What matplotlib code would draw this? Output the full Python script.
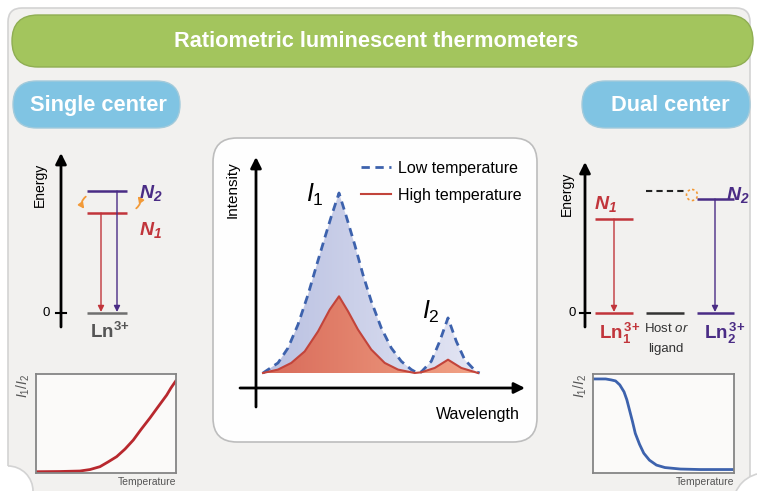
import numpy as np
import matplotlib.pyplot as plt
from matplotlib.colors import LinearSegmentedColormap
from matplotlib.patches import FancyBboxPatch, Circle, Arc, FancyArrowPatch

plt.rcParams['font.family'] = ['Liberation Sans', 'DejaVu Sans']
plt.rcParams['mathtext.fontset'] = 'custom'
plt.rcParams['mathtext.rm'] = 'Liberation Sans'
plt.rcParams['mathtext.it'] = 'Liberation Sans:italic'
plt.rcParams['mathtext.bf'] = 'Liberation Sans:bold'
plt.rcParams['mathtext.bfit'] = 'Liberation Sans:italic:bold'

W, H = 757, 491

# emission spectra (arbitrary wavelength units), scaled to the I1 peak at low T
low_wl = [0, 1.5, 2.5, 3.5, 4.5, 5.33, 6.17, 6.83, 7.6, 8.33, 9.17, 10.0, 10.83, 11.83,
          12.83, 13.83, 14.83, 15.43,
          15.83, 16.83, 17.67, 18.5, 19.33, 20.17, 21.33, 21.67]
low_int = [0, 0.056, 0.139, 0.269, 0.435, 0.593, 0.75, 0.87, 1.0, 0.87, 0.713, 0.546, 0.398,
           0.25, 0.139, 0.065, 0.019, 0,
           0.006, 0.065, 0.176, 0.306, 0.176, 0.074, 0.006, 0]
high_wl = [0, 1.5, 2.83, 4.17, 5.5, 6.67, 7.6, 8.5, 9.5, 10.83, 12.17, 13.5, 15.17,
           15.83, 17.17, 18.5, 19.83, 21.5]
high_int = [0, 0.019, 0.056, 0.12, 0.231, 0.352, 0.426, 0.343, 0.241, 0.13, 0.056, 0.019, 0,
            0.004, 0.028, 0.074, 0.028, 0]

# I1/I2 against temperature, both axes normalised
single_T = [0.007, 0.171, 0.314, 0.386, 0.457, 0.514, 0.576, 0.636, 0.695, 0.75, 0.814,
            0.871, 0.934, 0.964, 0.998]
single_ratio = [0.013, 0.015, 0.02, 0.035, 0.064, 0.111, 0.165, 0.242, 0.333, 0.439, 0.556,
                0.667, 0.788, 0.859, 0.929]
dual_T = [0.0, 0.09, 0.13, 0.16, 0.19, 0.22, 0.24, 0.26, 0.28, 0.30, 0.33, 0.36, 0.40,
          0.45, 0.51, 0.62, 0.76, 1.0]
dual_ratio = [0.95, 0.95, 0.94, 0.93, 0.89, 0.82, 0.74, 0.63, 0.52, 0.40, 0.29, 0.20,
              0.13, 0.08, 0.055, 0.04, 0.035, 0.035]

RED = '#c1353b'
PURPLE = '#4a2c85'
ORANGE = '#f29a38'
BLUE = '#3d62ad'
EDGE = '#d3d3d3'

fig = plt.figure(figsize=(W / 100, H / 100), dpi=100)
fig.patch.set_facecolor('white')
ax = fig.add_axes([0, 0, 1, 1])
ax.set_xlim(0, W)
ax.set_ylim(H, 0)
ax.axis('off')


def box(x0, y0, x1, y1):
    return [x0 / W, 1 - y1 / H, (x1 - x0) / W, (y1 - y0) / H]


def pill(x0, y0, x1, y1, r, fc, ec, z=1, lw=1.0):
    ax.add_patch(FancyBboxPatch((x0, y0), x1 - x0, y1 - y0,
                                boxstyle=f'round,pad=0,rounding_size={r}',
                                fc=fc, ec=ec, lw=lw, zorder=z))


def arrow(x0, y0, x1, y1, color, lw=1.0, ms=9):
    ax.annotate('', xy=(x1, y1), xytext=(x0, y0),
                arrowprops=dict(arrowstyle='-|>', color=color, lw=lw, mutation_scale=ms,
                                shrinkA=0, shrinkB=0))


def level(x0, x1, y, color, **kw):
    ax.plot([x0, x1], [y, y], color=color, lw=kw.pop('lw', 1.8), solid_capstyle='butt', **kw)


def ion(n=''):
    sub = r'_\mathbf{%s}' % n if n else ''
    sup = r'^{\,\mathbf{3{+}}}' if n else r'^{\mathbf{3{+}}}'
    return r'$\mathbf{Ln}' + sub + sup + '$'


# background panel with the two cut corners
pill(8, 8, 750, 530, 14, '#f2f1ef', EDGE, z=0, lw=1.2)
for (cx, cy), r, t1, t2 in [((8, 491), 25, 270, 360), ((765, 505), 32, 180, 270)]:
    ax.add_patch(Circle((cx, cy), r, fc='white', ec='none', zorder=0.5))
    ax.add_patch(Arc((cx, cy), 2 * r, 2 * r, theta1=t1, theta2=t2, color=EDGE, lw=1.2,
                     zorder=0.6))

# header and section pills
pill(12, 15, 753, 67, 26, '#a3c55d', '#8fae52', z=3)
ax.text(376, 41, 'Ratiometric luminescent thermometers', color='white', fontsize=15.7,
        fontweight='bold', ha='center', va='center', zorder=4)
pill(13, 81, 180, 128, 23.5, '#80c4e3', '#a2cadb', z=3)
ax.text(98, 105, 'Single center', color='white', fontsize=15.7, fontweight='bold',
        ha='center', va='center', zorder=4)
pill(582, 81, 750, 128, 23.5, '#80c4e3', '#a2cadb', z=3)
ax.text(670, 105, 'Dual center', color='white', fontsize=15.7, fontweight='bold',
        ha='center', va='center', zorder=4)

# ---- single center energy levels
arrow(61, 327, 61, 153, 'black', lw=2, ms=16)
ax.plot([56, 66], [313, 313], color='black', lw=1.5)
ax.text(46, 313, '0', fontsize=9.5, ha='center', va='center')
ax.text(40, 185, 'Energy', rotation=90, fontsize=10, ha='center', va='center')
level(87, 127, 191, PURPLE)
level(87, 127, 213, RED)
level(87, 127, 313, '#6f6f6f')
arrow(101, 213, 101, 312, RED)
arrow(117, 191, 117, 312, PURPLE)
ax.add_patch(FancyArrowPatch((88, 195), (86, 211), connectionstyle='arc3,rad=0.6',
                             arrowstyle='-|>', mutation_scale=8, color=ORANGE, lw=1.3))
ax.add_patch(FancyArrowPatch((134, 210), (136, 194), connectionstyle='arc3,rad=0.6',
                             arrowstyle='-|>', mutation_scale=8, color=ORANGE, lw=1.3))
ax.text(139, 193, r'$\mathbfit{N}_\mathbfit{2}$', color=PURPLE, fontsize=14, va='center')
ax.text(139, 230, r'$\mathbfit{N}_\mathbfit{1}$', color=RED, fontsize=14, va='center')
ax.text(90, 332, ion(), color='#555555', fontsize=13.5, va='center')

# ---- dual center energy levels
arrow(585, 327, 585, 162, 'black', lw=2, ms=16)
ax.plot([580, 590], [313, 313], color='black', lw=1.5)
ax.text(572, 313, '0', fontsize=9.5, ha='center', va='center')
ax.text(567, 194, 'Energy', rotation=90, fontsize=10, ha='center', va='center')
level(595, 633, 219, RED)
level(595, 633, 313, RED)
arrow(614, 219, 614, 312, RED)
level(646, 684, 313, '#333333')
level(646, 684, 191, '#222222', ls=(0, (3, 2)), lw=1.5)
ax.add_patch(Circle((692, 195), 5.5, fill=False, ec=ORANGE, ls=(0, (1.5, 1.5)), lw=1.2))
level(697, 734, 199, PURPLE)
level(697, 734, 313, PURPLE)
arrow(715, 199, 715, 312, PURPLE)
ax.text(594, 204, r'$\mathbfit{N}_\mathbfit{1}$', color=RED, fontsize=14, va='center')
ax.text(726, 195, r'$\mathbfit{N}_\mathbfit{2}$', color=PURPLE, fontsize=14, va='center')
ax.text(599, 333, ion('1'), color=RED, fontsize=13.5, va='center')
ax.text(704, 333, ion('2'), color=PURPLE, fontsize=13.5, va='center')
ax.text(667, 328, r'Host $\mathit{or}$', color='#333333', fontsize=9.5, ha='center',
        va='center')
ax.text(666, 349, 'ligand', color='#333333', fontsize=9.5, ha='center', va='center')

# ---- spectrum panel
pill(213, 138, 537, 442, 24, '#fefefe', '#bdbdbd', z=1, lw=1.2)
arrow(256, 407, 256, 157, 'black', lw=2, ms=16)
arrow(240, 388, 525, 388, 'black', lw=2, ms=16)
ax.text(233, 190, 'Intensity', rotation=90, fontsize=11, ha='center', va='center')
ax.text(478, 415, 'Wavelength', fontsize=11.5, ha='center', va='center')
ax.text(315, 195, r'$I_1$', fontsize=18, ha='center', va='center')
ax.text(431, 312, r'$I_2$', fontsize=18, ha='center', va='center')

axs = fig.add_axes(box(263, 193, 480, 373))
axs.axis('off')

grad = np.linspace(0, 1, 256).reshape(1, -1)
for wl, inten, c0, c1 in [(low_wl, low_int, '#b9c0e1', '#e4e6f4'),
                          (high_wl, high_int, '#d86a59', '#f2a487')]:
    poly, = axs.fill(wl, inten, fc='none', ec='none')
    im = axs.imshow(grad, cmap=LinearSegmentedColormap.from_list('g', [c0, c1]),
                    extent=[0, 21.7, 0, 1], aspect='auto')
    im.set_clip_path(poly)
axs.set_xlim(0, 21.7)
axs.set_ylim(0, 1)
axs.plot(low_wl, low_int, ls=(0, (3, 2)), color=BLUE, lw=2, clip_on=False,
         label='Low temperature')
axs.plot(high_wl, high_int, color='#c2443b', lw=1.5, clip_on=False,
         label='High temperature')
axs.legend(loc='upper left', bbox_to_anchor=(361 / W, 1 - 161 / H),
           bbox_transform=fig.transFigure, frameon=False, fontsize=11.5,
           handlelength=1.85, handletextpad=0.45, labelspacing=0.75,
           borderpad=0, borderaxespad=0)

# ---- ratio vs temperature
for (x0, x1), T, ratio, c in [((36, 176), single_T, single_ratio, '#b8282e'),
                              ((593, 734), dual_T, dual_ratio, BLUE)]:
    a = fig.add_axes(box(x0, 374, x1, 473))
    a.set_xlim(0, 1)
    a.set_ylim(0, 1)
    a.plot(T, ratio, color=c, lw=2)
    a.set_xticks([])
    a.set_yticks([])
    a.set_facecolor('#fbfaf9')
    for s in a.spines.values():
        s.set_color('#858585')
        s.set_linewidth(1.3)
    a.set_xlabel('Temperature', loc='right', fontsize=7.5, color='#555555', labelpad=3)
    a.set_ylabel(r'$I_1/I_2$', loc='top', fontsize=10, color='#555555', labelpad=3)

fig.savefig('out.png', dpi=100)
